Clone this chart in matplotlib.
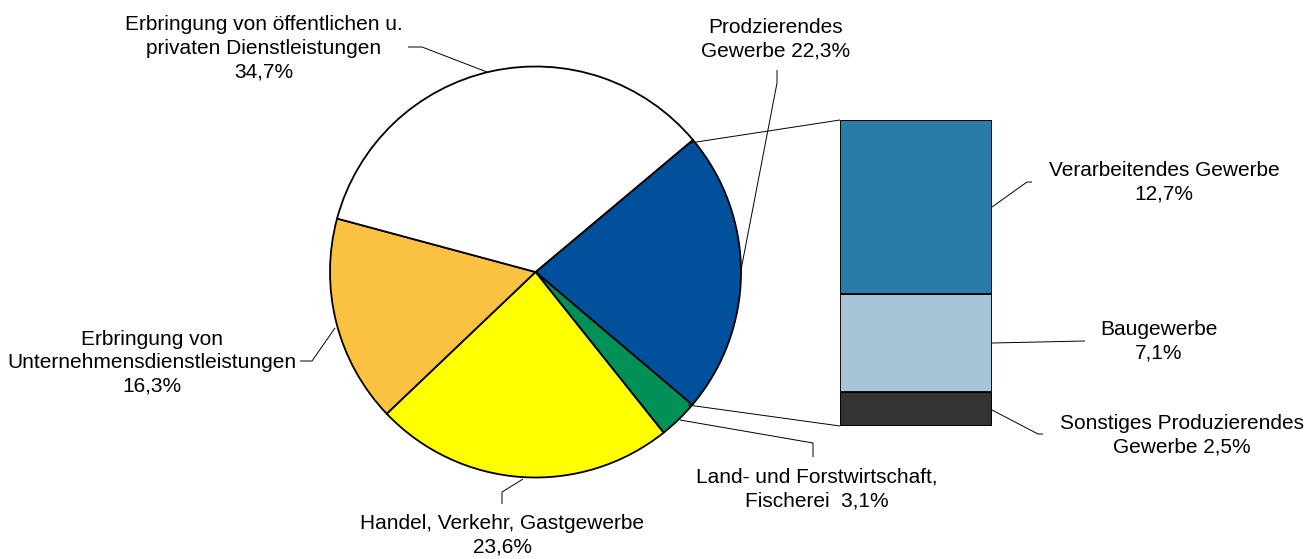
import matplotlib
matplotlib.use("Agg")
import matplotlib.pyplot as plt

plt.rcParams['font.family'] = ['Liberation Sans', 'DejaVu Sans']

# Data
pie_labels = ["Prodzierendes\nGewerbe 22,3%",
              "Land- und Forstwirtschaft,\nFischerei  3,1%",
              "Handel, Verkehr, Gastgewerbe\n23,6%",
              "Erbringung von\nUnternehmensdienstleistungen\n16,3%",
              "Erbringung von öffentlichen u.\nprivaten Dienstleistungen\n34,7%"]
pie_values = [22.3, 3.1, 23.6, 16.3, 34.7]
pie_colors = ["#00509B", "#009157", "#FFFF00", "#FBC140", "#FFFFFF"]

bar_labels = ["Sonstiges Produzierendes\nGewerbe 2,5%", "Baugewerbe\n7,1%",
              "Verarbeitendes Gewerbe\n12,7%"]
bar_values = [2.5, 7.1, 12.7]
bar_colors = ["#333333", "#A6C3D8", "#2A7CA8"]

W, H = 1308, 559
fig = plt.figure(figsize=(W / 100, H / 100), dpi=100)
ax = fig.add_axes([0, 0, 1, 1])

def Y(y):
    return H - y

# Pie
ax.pie(pie_values, colors=pie_colors, startangle=40, counterclock=False,
       center=(535.5, Y(272)), radius=205.5, frame=True,
       wedgeprops=dict(edgecolor='black', linewidth=1.3))
ax.set_xlim(0, W)
ax.set_ylim(0, H)
ax.set_aspect('equal')
ax.axis('off')

# Bar (inset axes)
bx = fig.add_axes([840 / W, (H - 426) / H, 152 / W, 306 / H])
bottom = 0
for v, c in zip(bar_values, bar_colors):
    bx.bar(0, v, bottom=bottom, width=1, color=c, edgecolor='black', linewidth=1.3)
    bottom += v
bx.set_xlim(-0.5, 0.5)
bx.set_ylim(0, sum(bar_values))
bx.axis('off')

fs = 15
lw = 0.7

def line(pts):
    ax.plot([p[0] for p in pts], [Y(p[1]) for p in pts], color='black', lw=lw,
            solid_capstyle='butt', clip_on=False)

# Connectors pie -> bar
line([(690, 143), (840, 120)])
line([(688, 405), (840, 426)])

# Leader lines
line([(408, 47), (422, 47), (487, 72)])
line([(777, 70), (777, 83), (741, 270)])
line([(680, 420), (813, 443), (813, 457)])
line([(523, 479), (502, 492), (502, 504)])
line([(300, 361), (312, 361), (335, 328)])
line([(992, 207), (1027, 182), (1032, 182)])
line([(992, 343), (1085, 341)])
line([(992, 410), (1038, 434), (1043, 434)])

# Labels
def label(x, y, s):
    ax.text(x, Y(y), s, ha='center', va='center', fontsize=fs, linespacing=1.3)

label(264, 48, pie_labels[4])
label(776, 39, pie_labels[0])
label(817, 489, pie_labels[1])
label(502, 535, pie_labels[2])
label(152, 363, pie_labels[3])
label(1164, 182, bar_labels[2])
label(1159, 341, bar_labels[1])
label(1182, 435, bar_labels[0])

fig.savefig("out.png", dpi=100)
